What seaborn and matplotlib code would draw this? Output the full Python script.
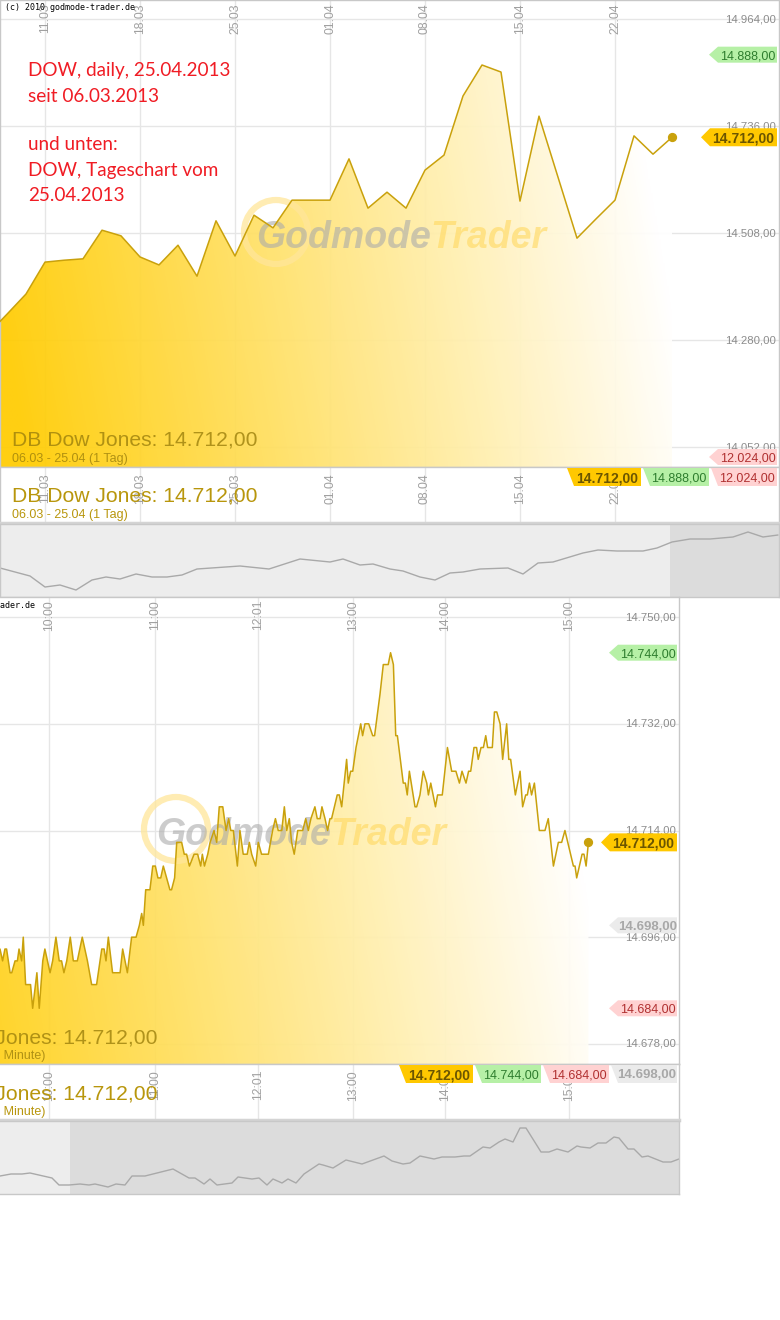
import numpy as np
import pandas as pd
import seaborn as sns
import matplotlib.pyplot as plt
from matplotlib.patches import Polygon, Circle
from matplotlib.transforms import IdentityTransform, blended_transform_factory

# ---------------- Data: daily chart (06.03 - 25.04.2013) ----------------
daily_dates = ["06.03", "07.03", "08.03", "11.03", "12.03", "13.03", "14.03", "15.03",
               "18.03", "19.03", "20.03", "21.03", "22.03", "25.03", "26.03", "27.03",
               "28.03", "29.03", "01.04", "02.04", "03.04", "04.04", "05.04", "08.04",
               "09.04", "10.04", "11.04", "12.04", "15.04", "16.04", "17.04", "18.04",
               "19.04", "22.04", "23.04", "24.04", "25.04"]
daily_close = [14293, 14335, 14378, 14446, 14450, 14453, 14514, 14502, 14457, 14440,
               14482, 14416, 14534, 14459, 14546, 14519, 14578, 14578, 14578, 14666,
               14561, 14595, 14561, 14642, 14674, 14800, 14866, 14851, 14576, 14757,
               14627, 14497, 14538, 14578, 14715, 14676, 14712]
daily_tick_labels = ["11.03", "18.03", "25.03", "01.04", "08.04", "15.04", "22.04"]
daily_yticks = [14052, 14280, 14508, 14736, 14964]
daily_tags = {"last": 14712, "high": 14888, "low": 12024}

# navigator below the daily chart (longer history, relative level)
nav_daily_t = [0, 30, 45, 60, 76, 92, 106, 120, 136, 152, 167, 182, 197, 240, 269, 300,
               330, 343, 360, 373, 390, 403, 420, 435, 450, 463, 480, 508, 523, 538,
               553, 583, 598, 617, 643, 657, 672, 690, 710, 733, 748, 763, 778]
nav_daily_v = [30, 22, 11, 13, 8, 18, 21, 19, 24, 21, 21, 23, 29, 32, 29, 39, 36, 39,
               33, 34, 29, 27, 21, 18, 25, 26, 29, 30, 24, 35, 36, 45, 48, 47, 47, 50,
               56, 59, 59, 61, 66, 61, 63]

# ---------------- Data: intraday chart 25.04.2013 ----------------
intraday_bar = [0.0, 1.1, 2.1, 2.8, 4.3, 5.0, 6.4, 7.4, 8.1, 9.2, 9.9, 10.9, 13.0, 13.9,
                15.7, 16.7, 18.2, 19.1, 21.3, 22.4, 23.8, 25.2, 26.2, 27.2, 28.4, 29.9,
                31.2, 32.9, 35.0, 37.2, 39.0, 41.1, 43.3, 44.3, 45.1, 46.1, 47.9, 51.1,
                52.2, 54.2, 56.0, 57.9, 59.3, 60.3, 61.0, 62.0, 63.8, 65.0, 66.1, 67.2,
                68.4, 69.5, 70.9, 72.3, 73.0, 74.3, 75.2, 77.3, 78.4, 79.4, 80.6, 81.6,
                82.6, 84.1, 85.4, 86.1, 87.0, 88.4, 89.4, 91.1, 92.2, 93.3, 94.8, 96.2,
                97.3, 98.2, 99.3, 101.0, 102.1, 103.5, 105.2, 106.1, 107.1, 108.8, 109.9,
                111.3, 114.2, 116.0, 117.2, 118.4, 119.9, 121.0, 122.0, 123.1, 124.1,
                125.2, 126.7, 128.8, 130.1, 131.2, 132.3, 134.0, 135.0, 136.2, 137.0,
                138.3, 139.4, 140.4, 141.1, 142.3, 143.5, 144.4, 145.4, 147.5, 148.2,
                149.2, 150.1, 151.5, 152.5, 153.5, 154.3, 155.3, 156.9, 158.6, 159.4,
                161.7, 163.1, 165.2, 166.2, 167.4, 168.4, 169.1, 171.6, 172.5, 173.3,
                174.2, 176.6, 177.3, 178.7, 180.1, 181.6, 182.3, 183.3, 185.3, 186.2,
                188.2, 190.4, 192.2, 194.0, 195.5, 196.6, 198.3, 199.4, 200.3, 201.7,
                202.8, 203.5, 204.7, 205.7, 206.7, 207.5, 209.5, 210.4, 211.4, 212.8,
                213.9, 215.6, 216.5, 217.3, 219.3, 221.3, 222.4, 223.7, 224.4, 225.3,
                226.2, 227.4, 229.5, 231.9, 233.3, 235.5, 237.6, 239.0, 240.4, 244.0,
                244.7, 245.4, 247.7, 248.5, 249.4, 250.4]
intraday_value = [14694, 14692, 14694, 14694, 14690, 14690, 14692, 14692, 14694, 14692,
                  14696, 14688, 14688, 14684, 14690, 14684, 14692, 14694, 14690, 14692,
                  14696, 14692, 14692, 14690, 14692, 14696, 14692, 14692, 14696, 14692,
                  14688, 14688, 14694, 14694, 14692, 14696, 14690, 14690, 14694, 14690,
                  14696, 14696, 14698, 14700, 14698, 14704, 14704, 14708, 14708, 14706,
                  14706, 14708, 14706, 14704, 14704, 14706, 14712, 14712, 14710, 14710,
                  14708, 14709, 14710, 14710, 14708, 14710, 14708, 14710, 14712, 14714,
                  14712, 14718, 14718, 14714, 14716, 14714, 14714, 14708, 14714, 14710,
                  14710, 14712, 14710, 14708, 14712, 14710, 14710, 14714, 14716, 14714,
                  14714, 14718, 14714, 14716, 14712, 14710, 14714,
                  14714, 14716, 14714, 14716, 14718, 14716, 14716, 14718, 14716, 14714,
                  14716, 14716, 14718, 14720, 14720, 14718, 14726, 14722, 14724, 14724,
                  14728, 14730, 14732, 14730, 14732, 14732, 14730, 14730, 14737, 14742,
                  14742, 14744, 14742, 14730, 14730, 14722, 14722, 14720, 14724, 14718,
                  14718, 14720, 14724, 14722, 14720, 14722, 14718, 14720, 14720, 14728,
                  14724, 14724, 14722, 14724, 14722, 14724, 14724, 14728, 14728, 14726,
                  14728, 14728, 14730, 14728, 14728, 14734, 14734, 14732, 14726, 14732,
                  14726, 14726, 14720, 14724, 14718, 14720, 14720, 14722, 14720, 14722,
                  14714, 14714, 14716, 14708, 14712, 14712, 14714, 14708, 14708, 14706,
                  14710, 14710, 14708, 14712]
intraday_tick_bar = [20.9, 66.0, 109.8, 150.2, 189.4, 242.1]
intraday_tick_labels = ["10:00", "11:00", "12:01", "13:00", "14:00", "15:00"]
intraday_yticks = [14678, 14696, 14714, 14732, 14750]
intraday_tags = {"last": 14712, "high": 14744, "low": 14684, "prev": 14698}

nav_intraday_t = [100, 111, 122, 130, 152, 159, 169, 180, 189, 195, 208, 216, 225, 232,
                  245, 273, 289, 295, 304, 310, 317, 332, 338, 352, 359, 367, 373, 382,
                  388, 396, 404, 419, 423, 433, 446, 462, 484, 492, 503, 510, 520, 534,
                  542, 555, 564, 570, 583, 590, 599, 605, 613, 620, 626, 641, 649, 657,
                  668, 677, 681, 690, 698, 706, 714, 719, 728, 734, 742, 748, 763, 771, 779]
nav_intraday_v = [19, 21, 21, 22, 17, 10, 10, 11, 10, 11, 8, 11, 10, 19, 19, 26, 17, 17,
                  11, 16, 10, 12, 18, 16, 17, 10, 16, 12, 16, 12, 21, 31, 30, 27, 35, 31,
                  39, 34, 31, 32, 39, 36, 38, 38, 39, 39, 48, 47, 53, 56, 53, 67, 67, 43,
                  43, 46, 43, 49, 48, 47, 52, 52, 58, 57, 46, 46, 38, 39, 33, 33, 36]

# ---------------- Style ----------------
sns.set_style("white")
plt.rcParams["font.family"] = ["Liberation Sans", "DejaVu Sans"]

W, H = 780, 1320
fig = plt.figure(figsize=(W / 100, H / 100), dpi=100, facecolor="white")
ID = IdentityTransform()
LINE = "#C9A10C"
GOLD = np.array([1.0, 0.8, 0.0])
GRID = "#E6E6E6"
BORDER = "#C8C8C8"

TAG_STYLE = {
    "last": ("#FFC800", "#6B5500", "bold", 10),
    "high": ("#B6F0A6", "#2E7D2E", "normal", 9),
    "low": ("#FFD2D2", "#B03030", "normal", 9),
    "prev": ("#EBEBEB", "#A8A8A8", "bold", 9.5),
}


def de(v):
    return f"{v:,.2f}".replace(",", "#").replace(".", ",").replace("#", ".")


def style_axes(a):
    a.set_xticks([])
    a.set_yticks([])
    a.set_xlabel("")
    a.set_ylabel("")
    for sp in a.spines.values():
        sp.set_color(BORDER)
        sp.set_linewidth(1)


def draw_panel(ox, oy, x, y, xlim, ylim, yticks, xt_pos, xt_lab, tags, strip_order,
               subtitle, nav_t, nav_v, nav_sel):
    # panel pixel (top-left origin) -> display coords
    def P(rx, ry):
        return ox + rx, H - (oy + ry)

    def rect(x0, y0, x1, y1):
        return [(ox + x0) / W, 1 - (oy + y1) / H, (x1 - x0) / W, (y1 - y0) / H]

    # ---------------- main chart ----------------
    ax = fig.add_axes(rect(0, 0, 779, 467))
    df = pd.DataFrame({"x": x, "y": y})
    for v in yticks:
        ax.axhline(v, color=GRID, lw=1, zorder=1)
    for xv in xt_pos:
        ax.axvline(xv, color=GRID, lw=1, zorder=1)

    # gradient area under the line
    poly = ax.fill_between(df["x"], df["y"], ylim[0], facecolor="none", edgecolor="none")
    s = np.linspace(0, 1, 500)[None, :]
    t = np.linspace(0, 1, 200)[:, None]
    a = np.clip(1.04 - s - 0.12 * t, 0, 1)
    img = np.ones((200, 500, 3))
    for k in range(3):
        img[..., k] = 1 - a * (1 - GOLD[k])
    im = ax.imshow(img, extent=[xlim[0], df["x"].iloc[-1], ylim[0], ylim[1]], origin="lower",
                   aspect="auto", interpolation="bilinear", alpha=0.93, zorder=2)
    im.set_clip_path(poly.get_paths()[0], transform=ax.transData)

    # watermark
    ax.add_artist(Circle(P(276, 232), 32, transform=ID, fill=False, ec="#FFE69A",
                         lw=4.5, alpha=0.75, zorder=3))
    ax.text(*P(256, 248), "Godmode", transform=ID, fontsize=27, fontweight="bold",
            style="italic", color="#ABABAB", alpha=0.6, zorder=3)
    ax.text(*P(430, 248), "Trader", transform=ID, fontsize=27, fontweight="bold",
            style="italic", color="#FFD85E", alpha=0.6, zorder=3)

    sns.lineplot(data=df, x="x", y="y", ax=ax, color=LINE, lw=1.1, estimator=None,
                 sort=False, zorder=4)
    ax.scatter([df["x"].iloc[-1]], [df["y"].iloc[-1]], s=32, color=LINE, zorder=5)
    ax.set_xlim(xlim)
    ax.set_ylim(ylim)

    yl = blended_transform_factory(ax.transAxes, ax.transData)
    for v in yticks:
        ax.text(1 - 3 / 779, v, de(v), transform=yl, ha="right", va="center",
                fontsize=8.2, color="#8C8C8C", zorder=6)
    xl = blended_transform_factory(ax.transData, ax.transAxes)
    for xv, lab in zip(xt_pos, xt_lab):
        ax.text(xv, 1 - 3 / 467, lab, transform=xl, rotation=90, ha="center", va="top",
                fontsize=8.8, color="#A0A0A0", zorder=6)

    ax.text(*P(5, 8), "(c) 2010 godmode-trader.de", transform=ID, va="center",
            family="DejaVu Sans Mono", fontsize=6, color="black", zorder=7)
    title = "DB Dow Jones: " + de(y[-1])
    ax.text(*P(12, 446), title, transform=ID, fontsize=15.2, color="#9C800C", alpha=0.8,
            zorder=6)
    ax.text(*P(12, 462), subtitle, transform=ID, fontsize=9, color="#9C800C", alpha=0.8,
            zorder=6)
    style_axes(ax)

    # price tags on the right
    bottom_d = H - (oy + 467)
    for kind, v in tags.items():
        fc, tc, fw, fs = TAG_STYLE[kind]
        yd = max(ax.transData.transform((x[0], v))[1], bottom_d + 10)
        h = 9 if kind == "last" else 8
        xp = ox + (701 if kind == "last" else 709)
        xb, xr = xp + 9, ox + 777
        fig.add_artist(Polygon([(xp, yd), (xb, yd + h), (xr, yd + h), (xr, yd - h),
                                (xb, yd - h)], closed=True, transform=ID, fc=fc,
                               ec="none", zorder=10))
        fig.text((xb + xr) / 2, yd, de(v), transform=ID, ha="center",
                 va="center_baseline", color=tc, fontweight=fw, fontsize=fs, zorder=11)

    # ---------------- info strip ----------------
    st = fig.add_axes(rect(0, 467, 779, 523))
    st.set_xlim(xlim)
    st.set_ylim(0, 1)
    for xv in xt_pos:
        st.axvline(xv, color=GRID, lw=1, zorder=1)
    sl = blended_transform_factory(st.transData, st.transAxes)
    for xv, lab in zip(xt_pos, xt_lab):
        st.text(xv, 1 - 6 / 56, lab, transform=sl, rotation=90, ha="center", va="top",
                fontsize=8.8, color="#A0A0A0", zorder=2)
    st.text(*P(12, 502), title, transform=ID, fontsize=15.2, color="#B8960C", zorder=3)
    st.text(*P(12, 518), subtitle, transform=ID, fontsize=9, color="#B8960C", zorder=3)
    style_axes(st)
    st.spines["bottom"].set_linewidth(2.5)
    st.spines["bottom"].set_color("#D4D4D4")

    top_d, bot_d = H - (oy + 468), H - (oy + 486)
    xr = 777
    for kind in reversed(strip_order):
        fc, tc, fw, fs = TAG_STYLE[kind]
        w = 74 if kind == "last" else 66
        x0 = xr - w
        fig.add_artist(Polygon([(ox + x0, top_d), (ox + xr, top_d), (ox + xr, bot_d),
                                (ox + x0 + 7, bot_d)], closed=True, transform=ID,
                               fc=fc, ec="none", zorder=10))
        fig.text(ox + (x0 + xr) / 2 + 3, (top_d + bot_d) / 2, de(tags[kind]),
                 transform=ID, ha="center", va="center_baseline", color=tc,
                 fontweight=fw, fontsize=fs, zorder=11)
        xr = x0 - 2

    # ---------------- navigator ----------------
    nv = fig.add_axes(rect(0, 524, 779, 597))
    nv.set_facecolor("#EDEDED")
    nv.axvspan(nav_sel[0], nav_sel[1], color="#DCDCDC", lw=0, zorder=0)
    sns.lineplot(x=nav_t, y=nav_v, ax=nv, color="#A9A9A9", lw=1, estimator=None,
                 sort=False, zorder=2)
    nv.set_xlim(0, 779)
    nv.set_ylim(1, 74)
    style_axes(nv)


# ---------------- Upper screenshot: daily ----------------
day_x = np.arange(len(daily_dates))
draw_panel(0, 0, day_x, daily_close,
           xlim=(12 / 19, 791 / 19), ylim=(14009.4, 15004.5), yticks=daily_yticks,
           xt_pos=[daily_dates.index(d) for d in daily_tick_labels],
           xt_lab=daily_tick_labels, tags=daily_tags,
           strip_order=["last", "high", "low"], subtitle="06.03 - 25.04 (1 Tag)",
           nav_t=nav_daily_t, nav_v=nav_daily_v, nav_sel=(670, 779))

# red annotation
notes = [("DOW, daily, 25.04.2013", 76), ("seit 06.03.2013", 102), ("und unten:", 150),
         ("DOW, Tageschart vom", 176), ("25.04.2013", 201)]
for txt, base in notes:
    fig.text(28, H - base, txt, transform=ID, family=["Lato", "DejaVu Sans"],
             fontsize=13.6, color="#F01C24", zorder=12)

# ---------------- Lower screenshot: intraday (cropped on the left) ----------------
draw_panel(-100, 597, np.array(intraday_bar), intraday_value,
           xlim=(-100 / 2.35, 679 / 2.35), ylim=(14674.6, 14753.4),
           yticks=intraday_yticks, xt_pos=intraday_tick_bar,
           xt_lab=intraday_tick_labels, tags=intraday_tags,
           strip_order=["last", "high", "low", "prev"],
           subtitle="25.04 - 25.04 (1 Minute)",
           nav_t=nav_intraday_t, nav_v=nav_intraday_v, nav_sel=(170, 779))

fig.savefig("out.png", dpi=100, facecolor="white")
